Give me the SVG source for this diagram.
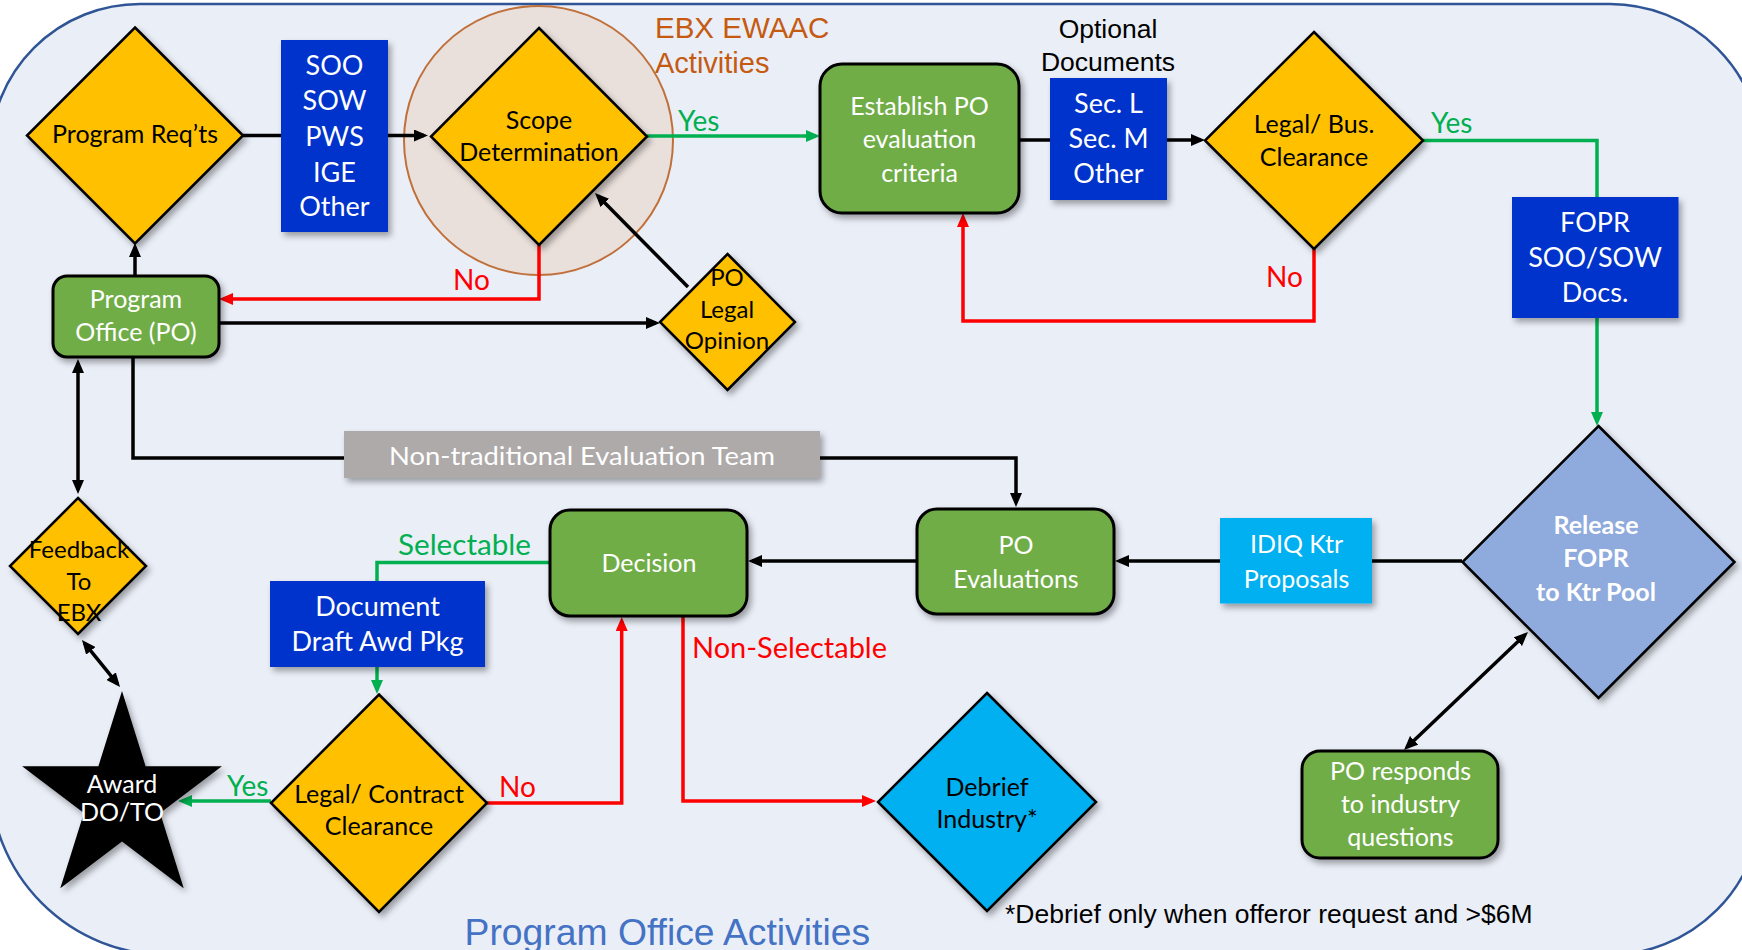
<svg xmlns="http://www.w3.org/2000/svg" width="1742" height="950" viewBox="0 0 1742 950">
<style>
.n{font-family:Lato,"Open Sans",sans-serif;font-size:25px;text-anchor:middle}
.big{font-size:27px}
.sm{font-size:24px}
.w{fill:#ffffff}
.k{fill:#000000}
.lbl{font-family:Lato,"Open Sans",sans-serif;font-size:28px}
.gt{fill:#00B050}
.rt{fill:#FF0000}
.ar{font-family:"Liberation Sans",Arial,sans-serif}
.yel{fill:#FFC000;stroke:#000;stroke-width:2.5}
.grn{fill:#70AD47;stroke:#000;stroke-width:3}
.blu{fill:#0033CC}
.cyan{fill:#00B0F0}
.ln{fill:none;stroke-width:3.5}
.bk{stroke:#000}
.gr{stroke:#00B050}
.rd{stroke:#FF0000}
</style>
<defs>
<filter id="sh" x="-20%" y="-20%" width="150%" height="150%">
<feDropShadow dx="3" dy="4" stdDeviation="3" flood-color="#000" flood-opacity="0.35"/>
</filter>
<marker id="ak" viewBox="0 0 14 12" refX="10" refY="6" markerWidth="14" markerHeight="12" markerUnits="userSpaceOnUse" orient="auto-start-reverse"><path d="M0,0 L14,6 L0,12 z" fill="#000"/></marker>
<marker id="ag" viewBox="0 0 14 12" refX="10" refY="6" markerWidth="14" markerHeight="12" markerUnits="userSpaceOnUse" orient="auto-start-reverse"><path d="M0,0 L14,6 L0,12 z" fill="#00B050"/></marker>
<marker id="ar" viewBox="0 0 14 12" refX="10" refY="6" markerWidth="14" markerHeight="12" markerUnits="userSpaceOnUse" orient="auto-start-reverse"><path d="M0,0 L14,6 L0,12 z" fill="#FF0000"/></marker>
</defs>

<rect x="0" y="0" width="1742" height="950" fill="#ffffff"/>
<path id="background" d="M140,4 H1610 A152,152 0 0 1 1762,156 V801 A154,154 0 0 1 1608,955 H167 A177,177 0 0 1 -10,778 V154 A150,150 0 0 1 140,4 Z" fill="#EAEEF7" stroke="#2F5597" stroke-width="2.5"/>

<g id="ebx-region">
<circle cx="538.5" cy="140.5" r="134.5" fill="#E9DFDB" stroke="#C0703A" stroke-width="2"/>
<text class="ar" x="655" y="38" font-size="29.5" fill="#C55A11">EBX EWAAC</text>
<text class="ar" x="655" y="73" font-size="29" fill="#C55A11">Activities</text>
</g>

<g id="connectors">
<path class="ln bk" d="M243,135.5 H424" marker-end="url(#ak)"/>
<path class="ln gr" d="M647,136 H816" marker-end="url(#ag)"/>
<path class="ln rd" d="M539,245 V299 H223" marker-end="url(#ar)"/>
<path class="ln bk" d="M135,276 V247" marker-end="url(#ak)"/>
<path class="ln bk" d="M219,323 H656" marker-end="url(#ak)"/>
<path class="ln bk" d="M688,287 L597.8,195.8" marker-end="url(#ak)"/>
<path class="ln bk" d="M1019,140 H1201" marker-end="url(#ak)"/>
<path class="ln gr" d="M1423,140.5 H1597 V197"/>
<path class="ln gr" d="M1597,318 V422" marker-end="url(#ag)"/>
<path class="ln rd" d="M1314,249 V321 H963 V217" marker-end="url(#ar)"/>
<path class="ln bk" d="M133,357 V458 H1016 V503" marker-end="url(#ak)"/>
<path class="ln bk" d="M78,363 V490" marker-start="url(#ak)" marker-end="url(#ak)"/>
<path class="ln bk" d="M84.5,643.1 L117.5,683.9" marker-start="url(#ak)" marker-end="url(#ak)"/>
<path class="ln bk" d="M1462,561 H1119" marker-end="url(#ak)"/>
<path class="ln bk" d="M917,561 H752" marker-end="url(#ak)"/>
<path class="ln gr" d="M550,562.5 H377 V581"/>
<path class="ln gr" d="M377,667 V690" marker-end="url(#ag)"/>
<path class="ln gr" d="M271,801 H182" marker-end="url(#ag)"/>
<path class="ln rd" d="M487,803 H621.7 V621" marker-end="url(#ar)"/>
<path class="ln rd" d="M683,616 V801 H872" marker-end="url(#ar)"/>
<path class="ln bk" d="M1406.9,747.2 L1525.1,634.8" marker-start="url(#ak)" marker-end="url(#ak)"/>
<text class="lbl gt" x="678" y="131">Yes</text>
<text class="lbl rt" x="453" y="290">No</text>
<text class="lbl rt" x="1266" y="287">No</text>
<text class="lbl gt" x="1431" y="133">Yes</text>
<text class="lbl gt" x="398" y="555" font-size="30" textLength="133" lengthAdjust="spacingAndGlyphs">Selectable</text>
<text class="lbl rt" x="692" y="658" font-size="30.5" textLength="195" lengthAdjust="spacingAndGlyphs">Non-Selectable</text>
<text class="lbl gt" x="227" y="796">Yes</text>
<text class="lbl rt" x="499" y="797">No</text>
</g>

<g id="program-reqts">
<polygon class="yel" filter="url(#sh)" points="135,27.5 243,135.5 135,243.5 27,135.5"/>
<text class="n k" x="135" y="143">Program Req’ts</text>
</g>

<g id="soo-docs">
<rect class="blu" filter="url(#sh)" x="281" y="40" width="107" height="192"/>
<text class="n w big" x="334.5" y="75">SOO</text>
<text class="n w big" x="334.5" y="110">SOW</text>
<text class="n w big" x="334.5" y="146">PWS</text>
<text class="n w big" x="334.5" y="182">IGE</text>
<text class="n w big" x="334.5" y="216">Other</text>
</g>

<g id="scope-determination">
<polygon class="yel" filter="url(#sh)" points="539,28 647,136.5 539,245 431,136.5"/>
<text class="n k" x="539" y="129">Scope</text>
<text class="n k" x="539" y="161">Determination</text>
</g>

<g id="establish-po">
<rect class="grn" filter="url(#sh)" x="820" y="64" width="199" height="149" rx="22"/>
<text class="n w" x="919.5" y="115">Establish PO</text>
<text class="n w" x="919.5" y="148">evaluation</text>
<text class="n w" x="919.5" y="182">criteria</text>
</g>

<g id="optional-docs">
<text class="ar" x="1108" y="38" font-size="26.5" text-anchor="middle">Optional</text>
<text class="ar" x="1108" y="71" font-size="26.5" text-anchor="middle">Documents</text>
<rect class="blu" filter="url(#sh)" x="1050" y="78" width="117" height="122"/>
<text class="n w big" x="1108.5" y="113">Sec. L</text>
<text class="n w big" x="1108.5" y="148">Sec. M</text>
<text class="n w big" x="1108.5" y="183">Other</text>
</g>

<g id="legal-bus-clearance">
<polygon class="yel" filter="url(#sh)" points="1314,32 1423,140.5 1314,249 1205,140.5"/>
<text class="n k" x="1314" y="133">Legal/ Bus.</text>
<text class="n k" x="1314" y="166">Clearance</text>
</g>

<g id="fopr-docs">
<rect class="blu" filter="url(#sh)" x="1512" y="197" width="166.5" height="121"/>
<text class="n w big" x="1595" y="232">FOPR</text>
<text class="n w big" x="1595" y="267">SOO/SOW</text>
<text class="n w big" x="1595" y="302">Docs.</text>
</g>

<g id="program-office">
<rect class="grn" filter="url(#sh)" x="53" y="276" width="166" height="81" rx="14"/>
<text class="n w" x="136" y="308">Program</text>
<text class="n w" x="136" y="341">Office (PO)</text>
</g>

<g id="po-legal-opinion">
<polygon class="yel" filter="url(#sh)" points="727.5,254 795,322 727.5,390 660,322"/>
<text class="n k sm" x="727" y="286">PO</text>
<text class="n k sm" x="727" y="318">Legal</text>
<text class="n k sm" x="727" y="349">Opinion</text>
</g>

<g id="eval-team">
<rect filter="url(#sh)" x="344" y="431" width="476" height="47" fill="#AEAAAA"/>
<text class="n w" x="582" y="465" font-size="27.5" textLength="386" lengthAdjust="spacingAndGlyphs">Non-traditional Evaluation Team</text>
</g>

<g id="feedback-ebx">
<polygon class="yel" filter="url(#sh)" points="78,498 146,566 78,634 10,566"/>
<text class="n k sm" x="79" y="558">Feedback</text>
<text class="n k sm" x="79" y="590">To</text>
<text class="n k sm" x="79" y="621">EBX</text>
</g>

<g id="award">
<polygon filter="url(#sh)" fill="#000" points="122,691 145.6,766.3 221.9,766.3 160.1,812.9 183.7,888.2 122,841.6 60.3,888.2 83.9,812.9 22.1,766.3 98.4,766.3"/>
<text class="n w" x="122" y="793" font-size="21">Award</text>
<text class="n w" x="122" y="821" font-size="21">DO/TO</text>
</g>

<g id="document-draft">
<rect class="blu" filter="url(#sh)" x="270" y="581" width="215" height="86"/>
<text class="n w big" x="377.5" y="616">Document</text>
<text class="n w big" x="377.5" y="651">Draft Awd Pkg</text>
</g>

<g id="legal-contract-clearance">
<polygon class="yel" filter="url(#sh)" points="379,694.5 487,803 379,912 271,803"/>
<text class="n k" x="379" y="803">Legal/ Contract</text>
<text class="n k" x="379" y="835">Clearance</text>
</g>

<g id="decision">
<rect class="grn" filter="url(#sh)" x="550" y="510" width="197" height="106" rx="20"/>
<text class="n w" x="649" y="572">Decision</text>
</g>

<g id="po-evaluations">
<rect class="grn" filter="url(#sh)" x="917" y="509" width="197" height="105" rx="20"/>
<text class="n w" x="1016" y="554">PO</text>
<text class="n w" x="1016" y="588">Evaluations</text>
</g>

<g id="idiq-proposals">
<rect class="cyan" filter="url(#sh)" x="1220" y="518" width="152" height="85.5"/>
<text class="n w" x="1296.5" y="553">IDIQ Ktr</text>
<text class="n w" x="1296.5" y="588">Proposals</text>
</g>

<g id="release-fopr">
<polygon filter="url(#sh)" fill="#8FAADC" stroke="#000" stroke-width="2.5" points="1598.5,426 1734.5,562 1598.5,698 1462.5,562"/>
<text class="n w" x="1596" y="534" font-size="26.5" font-weight="bold">Release</text>
<text class="n w" x="1596" y="567" font-size="26.5" font-weight="bold">FOPR</text>
<text class="n w" x="1596" y="601" font-size="26.5" font-weight="bold">to Ktr Pool</text>
</g>

<g id="po-responds">
<rect class="grn" filter="url(#sh)" x="1302" y="751" width="196" height="107" rx="18"/>
<text class="n w" x="1400.5" y="780">PO responds</text>
<text class="n w" x="1400.5" y="813">to industry</text>
<text class="n w" x="1400.5" y="846">questions</text>
</g>

<g id="debrief-industry">
<polygon filter="url(#sh)" fill="#00B0F0" stroke="#000" stroke-width="2.5" points="987,693 1096,802 987,911 878,802"/>
<text class="n k" x="987" y="796">Debrief</text>
<text class="n k" x="987" y="828">Industry*</text>
</g>

<g id="notes">
<text class="ar" x="1005" y="923" font-size="26.5" fill="#000">*Debrief only when offeror request and &gt;$6M</text>
<text class="ar" x="464.5" y="945" font-size="37.3" fill="#4472C4">Program Office Activities</text>
</g>
</svg>
